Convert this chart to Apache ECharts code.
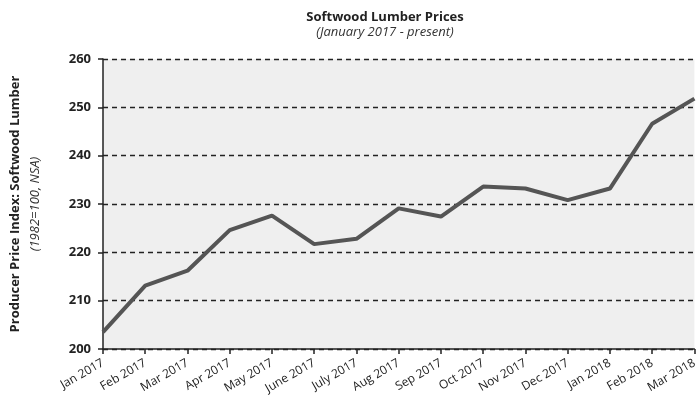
<!DOCTYPE html>
<html><head><meta charset="utf-8">
<script src="https://cdn.jsdelivr.net/npm/echarts@6/dist/echarts.min.js"></script>
<style>html,body{margin:0;padding:0;background:#fff}#c{width:700px;height:402px}</style>
</head><body><div id="c"></div>
<script>
var categories = ['Jan 2017','Feb 2017','Mar 2017','Apr 2017','May 2017','June 2017','July 2017','Aug 2017','Sep 2017','Oct 2017','Nov 2017','Dec 2017','Jan 2018','Feb 2018','Mar 2018'];
var ppiValues = [203.5,213.1,216.2,224.6,227.6,221.7,222.8,229.1,227.4,233.6,233.2,230.8,233.2,246.6,251.8];
var yTicks = [200,210,220,230,240,250,260];
var FONT = '"Open Sans", sans-serif';
var chart = echarts.init(document.getElementById('c'));
chart.setOption({
  animation:false,
  backgroundColor:'#fff',
  title:{
    text:'Softwood Lumber Prices',
    subtext:'(January 2017 - present)',
    left:380, textAlign:'center', top:6, itemGap:2,
    textStyle:{fontFamily:FONT,fontSize:13,fontWeight:'bold',color:'#222'},
    subtextStyle:{fontFamily:FONT,fontSize:13,fontStyle:'italic',color:'#333'}
  },
  grid:{left:103,right:3,top:59,bottom:53,show:true,backgroundColor:'#efefef',borderWidth:0},
  xAxis:{
    type:'category', data:categories, boundaryGap:false,
    axisLine:{lineStyle:{color:'#222',width:1.5}},
    axisTick:{show:true,length:5,lineStyle:{color:'#222',width:1.5}},
    axisLabel:{rotate:30,fontFamily:FONT,fontSize:12,color:'#222',margin:13,interval:0},
    splitLine:{show:false}
  },
  yAxis:{
    type:'value', min:yTicks[0], max:yTicks[yTicks.length-1], interval:10,
    name:'{a|Producer Price Index: Softwood Lumber}\n{b|(1982=100, NSA)}',
    nameLocation:'middle', nameRotate:90, nameGap:58,
    nameTextStyle:{rich:{
      a:{fontFamily:FONT,fontSize:13,fontWeight:'bold',color:'#222',lineHeight:20},
      b:{fontFamily:FONT,fontSize:13,fontStyle:'italic',color:'#333',lineHeight:20}
    }},
    axisLine:{show:true,lineStyle:{color:'#222',width:1.5}},
    axisTick:{show:true,length:5,lineStyle:{color:'#222',width:1.5}},
    axisLabel:{fontFamily:FONT,fontSize:13,fontWeight:'bold',color:'#222',margin:12},
    splitLine:{show:true,lineStyle:{color:'#222',type:[5,4],width:1.3}}
  },
  series:[{
    type:'line', data:ppiValues, symbol:'none',
    lineStyle:{color:'#555',width:4}
  }]
});
</script></body></html>
